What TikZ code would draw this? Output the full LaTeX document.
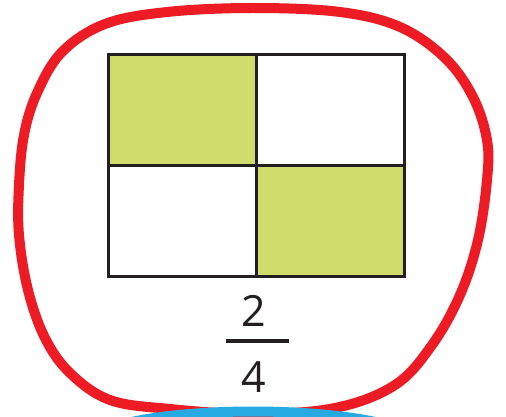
\documentclass[tikz,border=0pt]{standalone}
\usepackage{fontspec}
\setmainfont{Open Sans}
\definecolor{loopred}{HTML}{ED1C24}
\definecolor{loopblue}{HTML}{27A9E1}
\definecolor{cellgreen}{HTML}{D0DD6C}
\definecolor{ink}{HTML}{231F20}
\begin{document}
\begin{tikzpicture}[x=1pt,y=-1pt,
  cell/.style={draw=ink,line width=3pt,minimum width=148pt,minimum height=110.8pt,inner sep=0pt,outer sep=0pt,anchor=north west},
  digit/.style={inner sep=0pt,text=ink,font=\fontsize{43}{43}\selectfont},
  ring/.style={line width=10pt,line join=round}]
\useasboundingbox (0,0) rectangle (506,417);
\clip (0,0) rectangle (506,417);
% grid cells
\node[cell,fill=cellgreen] (c11) at (108.5,54.5) {};
\node[cell,fill=white] (c12) at (256.5,54.5) {};
\node[cell,fill=white] (c21) at (108.5,165.3) {};
\node[cell,fill=cellgreen] (c22) at (256.5,165.3) {};
% fraction
\node[digit] (num) at (254,311) {2};
\node[digit] (den) at (254,377) {4};
\coordinate (barL) at (226,341);
\coordinate (barR) at (289,341);
\draw[ink,line width=3.5pt] (barL) -- (barR);
% red loop
\draw[ring,loopred] plot[smooth cycle,tension=0.6] coordinates {
 (167,12) (253,8) (340,12) (400,27) (445,58) (473,97) (487,140)
 (487,180) (478,240) (460,295) (432,345) (395,385)
 (335,408) (253,414) (170,409) (110,400) (70,373) (45,338)
 (28,290) (19,235) (19,185) (24,135) (37,93) (62,52) (105,24)};
% blue arc of the next loop
\coordinate (bL) at (90,437);
\coordinate (bR) at (418,437);
\draw[ring,loopblue] (bL) .. controls (140,403) and (366,403) .. (bR);
\end{tikzpicture}
\end{document}
